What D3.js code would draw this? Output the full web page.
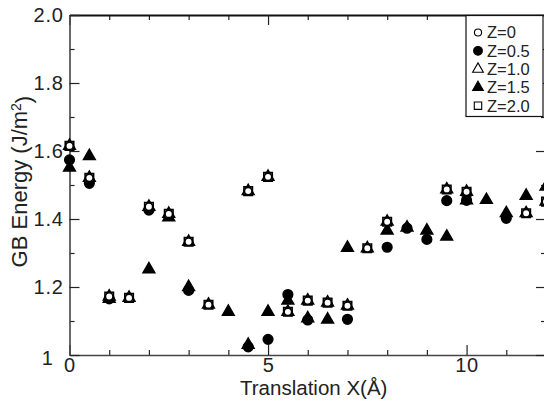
<!DOCTYPE html>
<html>
<head>
<meta charset="utf-8">
<script src="https://cdn.jsdelivr.net/npm/d3@7"></script>
<style>
  body { margin: 0; background: #fff; }
  text { font-family: "Liberation Sans", Arial, sans-serif; fill: #222; }
</style>
</head>
<body>
<div id="chart"></div>
<script>
// GB energy vs translation X
var xValues = [0, 0.5, 1, 1.5, 2, 2.5, 3, 3.5, 4, 4.5, 5, 5.5, 6, 6.5, 7, 7.5, 8, 8.5, 9, 9.5, 10, 10.5, 11, 11.5, 12];

var z0 = [1.615, 1.521, 1.172, 1.168, 1.436, 1.415, 1.333, 1.148, null, 1.482, 1.524, 1.127, 1.160, 1.154, 1.145, 1.314, 1.392, null, null, 1.487, 1.480, null, null, 1.417, 1.451];
var z05 = [1.574, 1.505, 1.165, null, 1.426, null, 1.190, null, null, 1.024, 1.046, 1.178, 1.103, null, 1.105, null, 1.317, 1.373, 1.340, 1.454, 1.455, null, 1.402, null, null];
var z10 = [1.615, 1.521, 1.172, 1.168, 1.436, 1.415, 1.333, 1.148, null, 1.482, 1.524, 1.127, 1.160, 1.154, 1.145, 1.314, 1.392, null, null, 1.487, 1.480, null, null, 1.417, 1.451];
var z15 = [1.551, 1.585, 1.165, null, 1.252, 1.405, 1.200, null, 1.127, 1.030, 1.127, 1.160, 1.108, 1.104, 1.315, null, 1.366, 1.375, 1.366, 1.348, 1.455, 1.456, 1.417, 1.468, 1.495];
var z20 = [1.615, 1.521, 1.172, 1.168, 1.436, 1.415, 1.333, 1.148, null, 1.482, 1.524, 1.127, 1.160, 1.154, 1.145, 1.314, 1.392, null, null, 1.487, 1.480, null, null, 1.417, 1.451];

var seriesNames = ["Z=0", "Z=0.5", "Z=1.0", "Z=1.5", "Z=2.0"];

var xTickValues = [0, 5, 10];
var xTickLabels = ["0", "5", "10"];
var yTickValues = [1, 1.2, 1.4, 1.6, 1.8, 2.0];
var yTickLabels = ["1", "1.2", "1.4", "1.6", "1.8", "2.0"];

var svgWidth = 544;
var svgHeight = 405;
var margin = { top: 15, right: -2, bottom: 50, left: 69.5 };
var width = svgWidth - margin.left - margin.right;
var height = svgHeight - margin.top - margin.bottom;

var svg = d3.select("#chart")
  .append("svg")
  .attr("width", svgWidth)
  .attr("height", svgHeight)
  .style("display", "block");

var chartGroup = svg.append("g")
  .attr("transform", `translate(${margin.left}, ${margin.top})`);

var xScale = d3.scaleLinear().domain([0, 12]).range([0, width]);
var yScale = d3.scaleLinear().domain([1, 2]).range([height, 0]);

var minorX = d3.range(1, 12).filter(d => d % 5 !== 0);
var minorY = [1.1, 1.3, 1.5, 1.7, 1.9];

// styling helper for axis groups
function styleAxis(g, color, lineWidth) {
  g.select(".domain").attr("stroke", color).attr("stroke-width", lineWidth);
  g.selectAll(".tick line").attr("stroke", "#222").attr("stroke-width", 1.2);
  g.selectAll(".tick text")
    .style("font-family", "'Liberation Sans', Arial, sans-serif")
    .style("font-size", "20px")
    .style("letter-spacing", "0.7px")
    .attr("fill", "#222");
}

// bottom axis
var bottomMinor = chartGroup.append("g")
  .attr("transform", `translate(0, ${height})`)
  .call(d3.axisBottom(xScale).tickValues(minorX).tickSize(-5).tickSizeOuter(0).tickFormat(""));
bottomMinor.select(".domain").remove();
bottomMinor.selectAll(".tick line").attr("stroke", "#222").attr("stroke-width", 1.2);

var bottomAxis = chartGroup.append("g")
  .attr("transform", `translate(0, ${height})`)
  .call(d3.axisBottom(xScale).tickValues(xTickValues).tickSize(-10).tickSizeOuter(0).tickPadding(3)
    .tickFormat((d, i) => xTickLabels[i]));
styleAxis(bottomAxis, "#444", 1.6);

// top axis
var topMinor = chartGroup.append("g")
  .call(d3.axisTop(xScale).tickValues(minorX).tickSize(-5).tickSizeOuter(0).tickFormat(""));
topMinor.select(".domain").remove();
topMinor.selectAll(".tick line").attr("stroke", "#222").attr("stroke-width", 1.2);

var topAxis = chartGroup.append("g")
  .call(d3.axisTop(xScale).tickValues(xTickValues).tickSize(-10).tickSizeOuter(0).tickFormat(""));
styleAxis(topAxis, "#111", 2.2);

// left axis
var leftMinor = chartGroup.append("g")
  .call(d3.axisLeft(yScale).tickValues(minorY).tickSize(-5).tickSizeOuter(0).tickFormat(""));
leftMinor.select(".domain").remove();
leftMinor.selectAll(".tick line").attr("stroke", "#222").attr("stroke-width", 1.2);

var leftAxis = chartGroup.append("g")
  .call(d3.axisLeft(yScale).tickValues(yTickValues).tickSize(-10).tickSizeOuter(0).tickPadding(6)
    .tickFormat((d, i) => yTickLabels[i]));
styleAxis(leftAxis, "#444", 1.6);
// the "1" label sits a bit further left and lower
leftAxis.selectAll(".tick text").filter((d, i) => i === 0)
  .attr("x", -16).attr("dy", "0.45em");

// right axis (mostly off the page)
var rightMinor = chartGroup.append("g")
  .attr("transform", `translate(${width}, 0)`)
  .call(d3.axisRight(yScale).tickValues(minorY).tickSize(-5).tickSizeOuter(0).tickFormat(""));
rightMinor.select(".domain").remove();
rightMinor.selectAll(".tick line").attr("stroke", "#222").attr("stroke-width", 1.2);

var rightAxis = chartGroup.append("g")
  .attr("transform", `translate(${width}, 0)`)
  .call(d3.axisRight(yScale).tickValues(yTickValues).tickSize(-10).tickSizeOuter(0).tickFormat(""));
styleAxis(rightAxis, "#444", 1.6);

// markers
var markerDefs = [
  { name: seriesNames[1], values: z05, type: d3.symbolCircle, size: 72, fill: "#000", stroke: "#000" },
  { name: seriesNames[3], values: z15, type: d3.symbolTriangle, size: 58, fill: "#000", stroke: "#000" },
  { name: seriesNames[4], values: z20, type: d3.symbolSquare, size: 72, fill: "#fff", stroke: "#000" },
  { name: seriesNames[2], values: z10, type: d3.symbolTriangle, size: 58, fill: "none", stroke: "#000" },
  { name: seriesNames[0], values: z0, type: d3.symbolCircle, size: 44, fill: "#fff", stroke: "#000" }
];

markerDefs.forEach(function (s) {
  var pts = xValues.map((x, i) => ({ x: x, y: s.values[i] })).filter(d => d.y !== null);
  chartGroup.append("g")
    .selectAll("path")
    .data(pts)
    .enter()
    .append("path")
    .attr("d", d3.symbol().type(s.type).size(s.size))
    .attr("transform", d => `translate(${xScale(d.x)}, ${yScale(d.y)})`)
    .attr("fill", s.fill)
    .attr("stroke", s.stroke)
    .attr("stroke-width", 1.6);
});

// axis titles
svg.append("text")
  .attr("x", margin.left + xScale(6.15))
  .attr("y", 395)
  .attr("text-anchor", "middle")
  .style("font-size", "20.5px")
  .text("Translation X(Å)");

var yTitle = svg.append("text")
  .attr("transform", `translate(27, ${margin.top + yScale(1.51)}) rotate(-90)`)
  .attr("text-anchor", "middle")
  .style("font-size", "22px");
yTitle.append("tspan").text("GB Energy (J/m");
yTitle.append("tspan").attr("dy", "-0.45em").style("font-size", "14px").text("2");
yTitle.append("tspan").attr("dy", "0.45em").text(")");

// legend
var legend = svg.append("g").attr("transform", "translate(466, 15.5)");
legend.append("rect")
  .attr("width", 77)
  .attr("height", 101)
  .attr("fill", "#fff")
  .attr("stroke", "#111")
  .attr("stroke-width", 1.2);

var legendDefs = [
  { type: d3.symbolCircle, size: 40, fill: "#fff" },
  { type: d3.symbolCircle, size: 60, fill: "#000" },
  { type: d3.symbolTriangle, size: 50, fill: "#fff" },
  { type: d3.symbolTriangle, size: 50, fill: "#000" },
  { type: d3.symbolSquare, size: 55, fill: "#fff" }
];

seriesNames.forEach(function (name, i) {
  var row = legend.append("g").attr("transform", `translate(0, ${17 + i * 18.3})`);
  row.append("path")
    .attr("d", d3.symbol().type(legendDefs[i].type).size(legendDefs[i].size))
    .attr("transform", "translate(12, 0)")
    .attr("fill", legendDefs[i].fill)
    .attr("stroke", "#000")
    .attr("stroke-width", 1.1);
  row.append("text")
    .attr("x", 21)
    .attr("dy", "0.36em")
    .style("font-size", "16.5px")
    .text(name);
});
</script>
</body>
</html>
